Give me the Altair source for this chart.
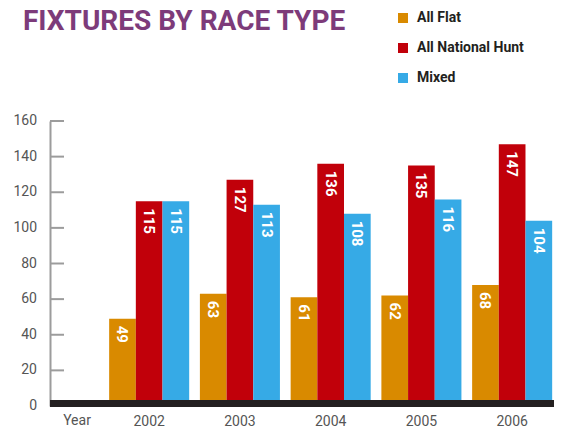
import altair as alt
import pandas as pd

years = ["2002", "2003", "2004", "2005", "2006"]
series = ["All Flat", "All National Hunt", "Mixed"]
flat = [49, 63, 61, 62, 68]
national_hunt = [115, 127, 136, 135, 147]
mixed = [115, 113, 108, 116, 104]
colors = ["#D98A00", "#C1000A", "#36AAE6"]
y_ticks = [0, 20, 40, 60, 80, 100, 120, 140, 160]

rows = []
for i, y in enumerate(years):
    for s, vals in zip(series, [flat, national_hunt, mixed]):
        rows.append({"year": y, "type": s, "value": vals[i]})
df = pd.DataFrame(rows)

W, H = 504, 285
FONT = "Roboto, sans-serif"

xenc = alt.X("year:N", sort=years,
             scale=alt.Scale(paddingInner=0.118, paddingOuter=0.336, align=0.97),
             axis=alt.Axis(title=None, ticks=False, domain=False, labelAngle=0,
                           labelPadding=8, labelColor="#555555", labelFontSize=14,
                           labelFont=FONT))
yaxis = alt.Axis(title=None, ticks=False, grid=False, labels=False,
                 domainColor="#9c9c9c", domainWidth=2)
yenc = alt.Y("value:Q", scale=alt.Scale(domain=[0, 160], nice=False), axis=yaxis)
off = alt.XOffset("type:N", sort=series)

bars = alt.Chart(df).mark_bar().encode(
    x=xenc, y=yenc, xOffset=off,
    color=alt.Color("type:N", sort=series,
                    scale=alt.Scale(domain=series, range=colors),
                    legend=alt.Legend(title=None, orient="none", legendX=346, legendY=-110,
                                      symbolType="square", symbolSize=100,
                                      symbolStrokeWidth=0, labelFont=FONT,
                                      labelFontSize=14, labelFontWeight="bold",
                                      labelColor="#231F20", rowPadding=16,
                                      labelOffset=7)),
)

labels = alt.Chart(df).mark_text(angle=90, align="left", baseline="middle", dx=7,
                                 color="white", fontSize=15, fontWeight="bold",
                                 font=FONT).encode(
    x=alt.X("year:N", sort=years), y="value:Q", xOffset=off, text="value:Q"
)

tick_df = pd.DataFrame({"t": y_ticks})
ticks = alt.Chart(tick_df).mark_rule(color="#9c9c9c", strokeWidth=2).encode(
    y=alt.Y("t:Q", axis=yaxis), x=alt.value(0), x2=alt.value(14)
)
tick_labels = alt.Chart(tick_df).mark_text(
    align="right", baseline="middle", dx=-13, fontSize=14, color="#555555",
    font=FONT).encode(
    y=alt.Y("t:Q", axis=yaxis), x=alt.value(0), text="t:Q"
)

band = alt.Chart(pd.DataFrame({"a": [0]})).mark_rect(color="#231F20").encode(
    x=alt.value(0), x2=alt.value(W), y=alt.value(H - 6), y2=alt.value(H + 1)
)

year_lbl = alt.Chart(pd.DataFrame({"l": ["Year"]})).mark_text(
    baseline="top", fontSize=14, color="#555555", font=FONT).encode(
    x=alt.value(27), y=alt.value(H + 8), text="l:N"
)

chart = alt.layer(bars, ticks, tick_labels, labels, band, year_lbl).properties(
    width=W, height=H,
    padding={"left": 5, "top": 0, "right": 0, "bottom": 0},
    title=alt.Title("FIXTURES BY RACE TYPE", anchor="start", frame="group", dx=-27,
                    offset=-25, fontSize=28, fontWeight="bold", color="#7D3B7A",
                    font=FONT),
).configure_view(stroke=None)

chart.save("out.html", embed_options={"renderer": "svg", "actions": False})
